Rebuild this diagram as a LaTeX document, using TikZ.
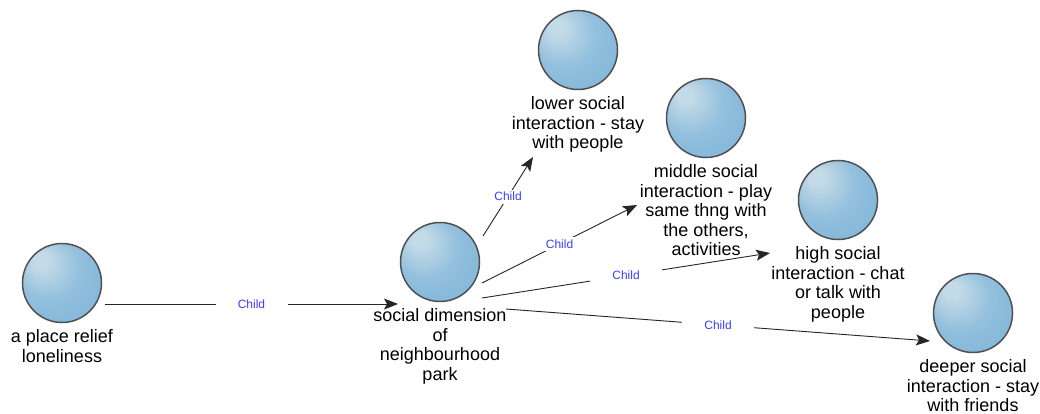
\documentclass[tikz,border=0pt]{standalone}
\usepackage{fontspec}
\setmainfont{Liberation Sans}
\usetikzlibrary{arrows.meta}
\definecolor{hl}{HTML}{C3DAE7}
\definecolor{midb}{HTML}{93C0DD}
\definecolor{rim}{HTML}{7DB3D9}
\definecolor{rimd}{HTML}{6AA4CF}
\definecolor{outl}{HTML}{505050}
\definecolor{lblue}{RGB}{60,60,255}
\pgfdeclareradialshading{sphereshade}{\pgfpoint{-15bp}{16bp}}{color(0bp)=(hl); color(5bp)=(hl); color(20bp)=(midb); color(40bp)=(rim); color(50bp)=(rimd)}
\tikzset{
  sphere/.style={circle, minimum size=79pt, inner sep=0pt, draw=outl, line width=1.5pt, shading=sphereshade},
  lbl/.style={anchor=north, align=center, inner sep=0pt, font=\fontsize{18}{19.5}\selectfont},
  edge/.style={draw=black!85, line width=0.9pt, -{Stealth[length=14pt,width=11pt,inset=3pt]}},
  elbl/.style={fill=white, minimum width=72pt, minimum height=14pt, inner sep=0pt, text=lblue, font=\fontsize{12}{12}\selectfont}
}
\begin{document}
\begin{tikzpicture}[x=1pt,y=-1pt]
\useasboundingbox[fill=white] (0,0) rectangle (1040,414);
% spheres
\node[sphere] (s1) at (62,283) {};
\node[sphere] (s2) at (440,262) {};
\node[sphere] (s3) at (578,50) {};
\node[sphere] (s4) at (706,118) {};
\node[sphere] (s5) at (838,200) {};
\node[sphere] (s6) at (973,313) {};
% labels
\node[lbl] (l1) at (62,329.5) {a place relief\\loneliness};
\node[lbl] (l2) at (440,308.5) {social dimension\\of\\neighbourhood\\park};
\node[lbl] (l3) at (578,96.5) {lower social\\interaction - stay\\with people};
\node[lbl] (l4) at (706,164.5) {middle social\\interaction - play\\same thng with\\the others,\\activities};
\node[lbl] (l5) at (838,246.5) {high social\\interaction - chat\\or talk with\\people};
\node[lbl] (l6) at (973,359.5) {deeper social\\interaction - stay\\with friends};
% connector end points
\coordinate (a1) at (105,304);
\coordinate (b1) at (398,304);
\coordinate (a2) at (483,236);
\coordinate (b2) at (533,157);
\coordinate (a3) at (482,283);
\coordinate (b3) at (637,205);
\coordinate (a4) at (482,298);
\coordinate (b4) at (770,253);
\coordinate (a5) at (506,309);
\coordinate (b5) at (930,341);
% connectors
\draw[edge] (a1) -- node[elbl] (c1) {Child} (b1);
\draw[edge] (a2) -- node[elbl] (c2) {Child} (b2);
\draw[edge] (a3) -- node[elbl] (c3) {Child} (b3);
\draw[edge] (a4) -- node[elbl] (c4) {Child} (b4);
\draw[edge] (a5) -- node[elbl] (c5) {Child} (b5);
\end{tikzpicture}
\end{document}
